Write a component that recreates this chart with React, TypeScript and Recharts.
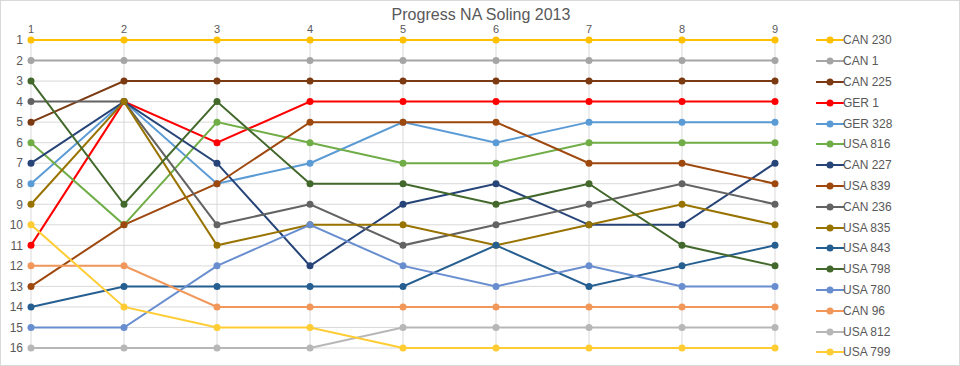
import { LineChart, Line, XAxis, YAxis, CartesianGrid } from "recharts";

const races = [1, 2, 3, 4, 5, 6, 7, 8, 9];
const rankTicks = [1, 2, 3, 4, 5, 6, 7, 8, 9, 10, 11, 12, 13, 14, 15, 16];

const boats = [
  "CAN 230", "CAN 1", "CAN 225", "GER 1", "GER 328", "USA 816", "CAN 227", "USA 839",
  "CAN 236", "USA 835", "USA 843", "USA 798", "USA 780", "CAN 96", "USA 812", "USA 799",
];

const can230 = [1, 1, 1, 1, 1, 1, 1, 1, 1];
const can1 = [2, 2, 2, 2, 2, 2, 2, 2, 2];
const can225 = [5, 3, 3, 3, 3, 3, 3, 3, 3];
const ger1 = [11, 4, 6, 4, 4, 4, 4, 4, 4];
const ger328 = [8, 4, 8, 7, 5, 6, 5, 5, 5];
const usa816 = [6, 10, 5, 6, 7, 7, 6, 6, 6];
const can227 = [7, 4, 7, 12, 9, 8, 10, 10, 7];
const usa839 = [13, 10, 8, 5, 5, 5, 7, 7, 8];
const can236 = [4, 4, 10, 9, 11, 10, 9, 8, 9];
const usa835 = [9, 4, 11, 10, 10, 11, 10, 9, 10];
const usa843 = [14, 13, 13, 13, 13, 11, 13, 12, 11];
const usa798 = [3, 9, 4, 8, 8, 9, 8, 11, 12];
const usa780 = [15, 15, 12, 10, 12, 13, 12, 13, 13];
const can96 = [12, 12, 14, 14, 14, 14, 14, 14, 14];
const usa812 = [16, 16, 16, 16, 15, 15, 15, 15, 15];
const usa799 = [10, 14, 15, 15, 16, 16, 16, 16, 16];

const ranks = [
  can230, can1, can225, ger1, ger328, usa816, can227, usa839,
  can236, usa835, usa843, usa798, usa780, can96, usa812, usa799,
];

const colors = [
  "#FFC000", "#A5A5A5", "#7B3A12", "#FF0000", "#5B9BD5", "#70AD47", "#264478", "#9E480E",
  "#636363", "#997300", "#255E91", "#43682B", "#698ED0", "#F1975A", "#B7B7B7", "#FFCD33",
];

const data = races.map((race, i) => {
  const row: Record<string, number> = { race };
  boats.forEach((b, j) => {
    row[b] = ranks[j][i];
  });
  return row;
});

const font = "'Liberation Sans', Arial, sans-serif";

function LegendBox() {
  return (
    <div style={{ position: "absolute", left: 815, top: 29, fontFamily: font }}>
      {boats.map((b, i) => (
        <div key={b} style={{ display: "flex", alignItems: "center", height: 20.8 }}>
          <svg width={28} height={10} style={{ marginRight: -1 }}>
            <line x1={0} y1={5} x2={28} y2={5} stroke={colors[i]} strokeWidth={2} />
            <circle cx={14} cy={5} r={3.5} fill={colors[i]} />
          </svg>
          <span style={{ fontSize: 12, color: "#595959" }}>{b}</span>
        </div>
      ))}
    </div>
  );
}

export default function App() {
  return (
    <div
      style={{
        position: "absolute",
        left: 0,
        top: 0,
        width: 960,
        height: 366,
        boxSizing: "border-box",
        border: "1px solid #D9D9D9",
        background: "#fff",
        fontFamily: font,
      }}
    >
      <div
        style={{
          position: "absolute",
          top: 5,
          left: 0,
          width: 960,
          textAlign: "center",
          fontSize: 16,
          lineHeight: "18px",
          color: "#595959",
        }}
      >
        Progress NA Soling 2013
      </div>
      <div style={{ position: "absolute", left: -1, top: -1 }}>
        <LineChart
          width={960}
          height={366}
          data={data}
          margin={{ top: 20, right: 185, bottom: 18, left: 0 }}
        >
          <CartesianGrid stroke="#D9D9D9" />
          <XAxis
            dataKey="race"
            orientation="top"
            height={20}
            axisLine={false}
            tickLine={false}
            tickMargin={1}
            tick={{ fill: "#595959", fontSize: 11 }}
          />
          <YAxis
            type="number"
            domain={[1, 16]}
            ticks={rankTicks}
            interval={0}
            reversed
            width={31}
            axisLine={false}
            tickLine={false}
            tick={{ fill: "#595959", fontSize: 12 }}
          />
          {boats.map((b, i) => (
            <Line
              key={b}
              type="linear"
              dataKey={b}
              stroke={colors[i]}
              strokeWidth={2}
              dot={{ r: 3.5, fill: colors[i], stroke: colors[i], strokeWidth: 0 }}
              isAnimationActive={false}
            />
          ))}
        </LineChart>
      </div>
      <LegendBox />
    </div>
  );
}
